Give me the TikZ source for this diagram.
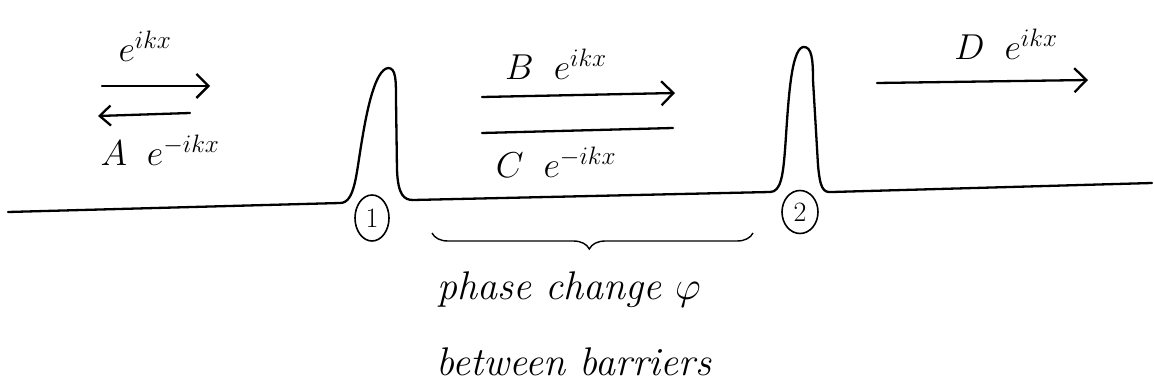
\RequirePackage{fix-cm}
\documentclass[tikz,border=0pt]{standalone}
\usetikzlibrary{arrows.meta,shapes.geometric,decorations.pathreplacing}
\begin{document}
\begin{tikzpicture}[x=1pt,y=-1pt,
  ink/.style={line width=2.3pt,line cap=round,line join=round},
  wave/.style={ink,-{Straight Barb[length=12pt,width=24pt,line width=2.3pt]}},
  wavel/.style={ink,-{Straight Barb[length=11pt,width=20pt,line width=2.3pt]}},
  lbl/.style={inner sep=0pt,font=\fontsize{36}{42}\selectfont},
  txt/.style={inner sep=0pt,font=\fontsize{40}{46}\selectfont\itshape},
  num/.style={ellipse,draw,line width=1.6pt,inner sep=0pt,font=\fontsize{28}{32}\selectfont}
]
\useasboundingbox (0,0) rectangle (1154,385);
% potential with two barriers
\coordinate (L0) at (8,212);
\coordinate (B1l) at (340,203);
\coordinate (B1r) at (413,200);
\coordinate (B2l) at (770,192);
\coordinate (B2r) at (832,192);
\coordinate (R0) at (1152,183);
\draw[ink] (L0) -- (B1l)
  .. controls (355,203) and (356,175) .. (362,140)
  .. controls (367,110) and (375,70) .. (388,68)
  .. controls (396,68) and (396,80) .. (396,100) -- (397,170)
  .. controls (398,195) and (404,200) .. (B1r) -- (B2l)
  .. controls (781,192) and (783,175) .. (785,150)
  .. controls (788,110) and (790,50) .. (803,47)
  .. controls (812,46) and (813,60) .. (813,80) -- (818,165)
  .. controls (820,188) and (823,193) .. (B2r) -- (R0);
% barrier numbers
\node[num,minimum width=34pt,minimum height=46pt] (n1) at (372,218) {1};
\node[num,minimum width=36pt,minimum height=43pt] (n2) at (800,212) {2};
% left region
\node[lbl] (t1) at (145,46) {$e^{ikx}$};
\coordinate (a1s) at (102,86);
\coordinate (a1e) at (210,86);
\draw[wave] (a1s) -- (a1e);
\coordinate (a2s) at (190,113);
\coordinate (a2e) at (98,116);
\draw[wavel] (a2s) -- (a2e);
\node[lbl] (t2) at (160,150) {$A\;\;e^{-ikx}$};
% middle region
\node[lbl] (t3) at (556,64) {$B\;\;e^{ikx}$};
\coordinate (a3s) at (482,97);
\coordinate (a3e) at (675,93);
\draw[wave] (a3s) -- (a3e);
\coordinate (a4s) at (482,133);
\coordinate (a4e) at (673,128);
\draw[ink] (a4s) -- (a4e);
\node[lbl] (t4) at (556,162) {$C\;\;e^{-ikx}$};
% right region
\node[lbl] (t5) at (1006,44) {$D\;\;e^{ikx}$};
\coordinate (a5s) at (877,83);
\coordinate (a5e) at (1088,80);
\draw[wave] (a5s) -- (a5e);
% brace and explanation
\coordinate (br1) at (432,233);
\coordinate (br2) at (753,233);
\draw[line width=1.4pt,decorate,decoration={brace,mirror,amplitude=16pt,aspect=0.49}] (br1) -- (br2);
\node[txt] (ph) at (569,290) {phase change $\varphi$};
\node[txt] (bw) at (574,362) {between barriers};
\end{tikzpicture}
\end{document}
